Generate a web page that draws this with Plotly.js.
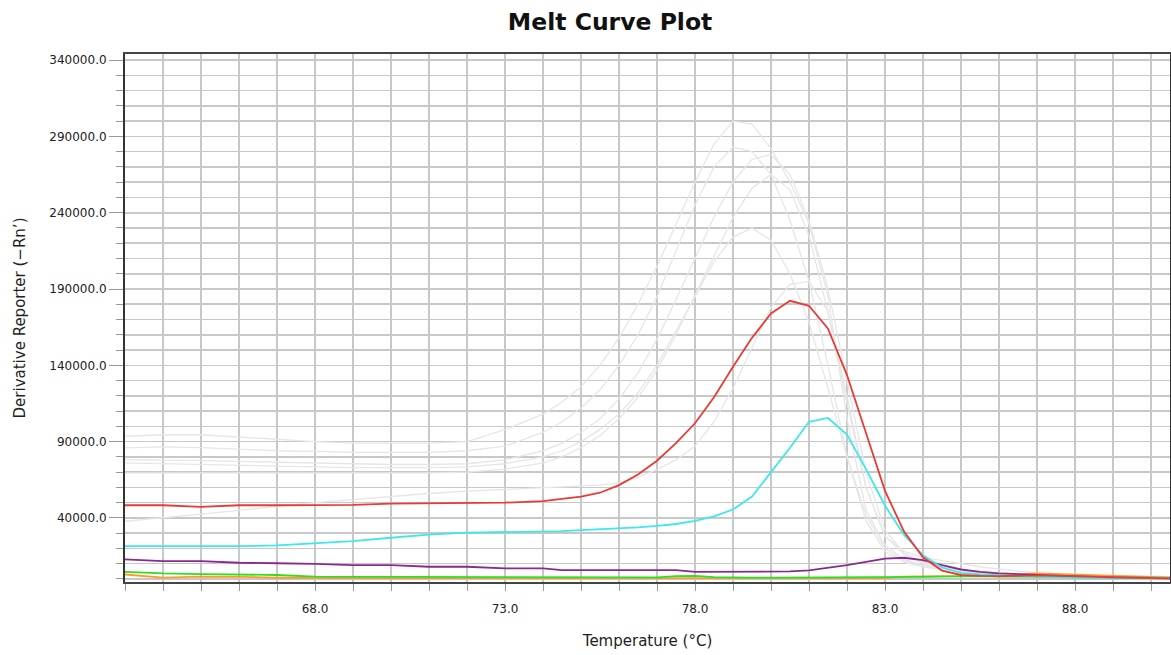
<!DOCTYPE html>
<html>
<head>
<meta charset="utf-8">
<script src="https://cdn.plot.ly/plotly-3.0.1.min.js"></script>
<style>
  html, body { margin: 0; padding: 0; background: #ffffff; }
  #chart { width: 1171px; height: 655px; }
</style>
</head>
<body>
<div id="chart"></div>
<script>
// Temperature grid (°C)
const temps = [63,64,65,66,67,68,69,70,71,72,73,74,74.5,75,75.5,76,76.5,77,77.5,78,78.5,79,79.5,80,80.5,81,81.5,82,82.5,83,83.5,84,84.5,85,85.5,86,87,88,89,90,90.5];

// Grey (background) wells
const greyA = [93500,94500,94500,93000,91500,90000,89000,89000,89000,90000,97800,108000,116000,126000,140000,158000,180000,205000,232000,260000,285000,300000,298000,282000,260000,233000,185000,105000,45000,22000,13000,9000,7000,5500,4500,4000,3000,2500,2000,1500,1500];
const greyB = [85900,86500,86000,85000,84000,83600,83000,83000,83000,84000,87000,96000,103000,112000,124000,140000,160000,185000,215000,245000,270000,283000,280000,265000,235000,195000,140000,80000,38000,18000,11000,8000,6000,5000,4000,3500,2500,2000,1500,1200,1200];
const greyC = [78200,78000,77500,77000,76500,76000,75500,75000,75000,75500,78000,84000,89000,96000,105000,118000,135000,157000,183000,210000,237000,260000,275000,278000,265000,235000,190000,130000,70000,32000,17000,11000,8000,6000,5000,4000,3000,2500,2000,1500,1500];
const greyD = [76000,75500,75000,74500,74000,73500,73000,73000,73000,73500,75500,80000,84000,90000,98000,108000,122000,140000,162000,185000,208000,224000,230000,222000,200000,168000,125000,80000,42000,20000,12000,8500,6500,5000,4000,3500,2500,2000,1500,1200,1200];
const greyE = [37800,40000,42500,45000,47500,50000,52000,54000,56000,57500,58600,59500,60000,60500,61500,63000,66500,71700,78000,87000,103000,125000,152000,178000,193000,195000,175000,120000,60000,28000,18000,14000,12000,10000,8000,6500,4000,3000,2000,1500,1500];
const greyF = [69500,69500,69500,69500,69500,69500,69500,69500,69500,70000,72000,76000,80000,86000,94000,105000,119000,137000,160000,186000,212000,237000,256000,265000,255000,225000,175000,115000,60000,28000,16000,10000,7500,6000,5000,4000,3000,2500,2000,1500,1500];

// Highlighted wells
const orangeWell = [2900,900,1500,1400,800,600,500,500,500,500,500,500,500,500,500,500,500,500,500,500,500,500,500,500,500,500,500,500,500,500,1500,1800,1800,1800,2000,2400,3600,2800,1800,1000,800];
const greenWell  = [4700,3600,3200,2900,2600,1500,1400,1400,1500,1500,1100,1000,1000,1000,1000,1000,1000,1000,1800,2000,1200,900,900,900,900,900,900,900,900,900,1000,1300,1500,1700,1800,1600,1400,1200,1000,900,900];
const purpleWell = [12800,11700,11700,10600,10300,9900,9000,9000,8000,8000,6900,6900,5800,5800,5800,5800,5800,5800,5800,4700,4700,4700,4700,4700,4900,5600,7200,9000,11200,13300,13900,12300,9000,6200,4600,3600,2600,1500,800,600,500];
const cyanWell   = [21500,21500,21500,21500,22000,23200,24800,27000,29000,30300,30600,31000,31300,32000,32500,33000,33800,34800,36000,38000,41000,45500,54000,70000,86000,103000,105500,94600,72000,48000,29000,15500,7500,4000,3000,2500,1500,800,800,700,600];
const redWell    = [48300,48300,47200,48300,48300,48300,48500,49300,49500,49600,50000,51000,52500,54000,56500,61500,68500,77500,89000,102000,119000,139000,158000,174000,182300,179000,164000,133600,95700,57700,31000,14200,5500,2600,2000,1800,2400,1800,1200,600,300];

// Axis ticks
const xTickVals = [68, 73, 78, 83, 88];
const xTickText = ["68.0", "73.0", "78.0", "83.0", "88.0"];

const greySeries = [greyA, greyB, greyC, greyD, greyE, greyF];
const traces = [];
greySeries.forEach(function (s) {
  traces.push({x: temps, y: s, type: 'scatter', mode: 'lines',
    line: {color: '#e6e6e6', width: 1.3}, hoverinfo: 'skip', showlegend: false});
});
const coloured = [
  [orangeWell, '#ff9a2e'],
  [greenWell, '#2ee01e'],
  [purpleWell, '#8a2a8f'],
  [cyanWell, '#3ee8e8'],
  [redWell, '#ea3a34']
];
coloured.forEach(function (c) {
  traces.push({x: temps, y: c[0], type: 'scatter', mode: 'lines',
    line: {color: c[1], width: 1.8}, showlegend: false});
});

const gridCol = '#c8c8c8';
const layout = {
  width: 1171, height: 655,
  paper_bgcolor: '#ffffff', plot_bgcolor: '#ffffff',
  margin: {l: 125, r: 1, t: 54, b: 73},
  showlegend: false,
  title: {
    text: 'Melt Curve Plot',
    font: {family: 'DejaVu Sans', size: 23.5, color: '#111111', weight: 700},
    x: 0.521, xref: 'container', xanchor: 'center',
    y: 0.967, yref: 'container', yanchor: 'middle'
  },
  xaxis: {
    range: [63, 90.5],
    tickmode: 'array', tickvals: xTickVals, ticktext: xTickText,
    ticks: 'outside', ticklen: 7, tickwidth: 1, tickcolor: '#999999',
    ticklabelstandoff: 8,
    showgrid: true, gridcolor: gridCol, gridwidth: 1.6,
    minor: {tickmode: 'linear', tick0: 63, dtick: 1, showgrid: true,
            gridcolor: gridCol, gridwidth: 1.6, ticks: 'outside', ticklen: 7, tickcolor: '#999999'},
    zeroline: false,
    showline: true, linecolor: '#444444', linewidth: 2, mirror: true,
    tickfont: {family: 'DejaVu Sans', size: 12, color: '#222222'},
    title: {text: 'Temperature (°C)', standoff: 20,
            font: {family: 'DejaVu Sans', size: 15, color: '#222222'}}
  },
  yaxis: {
    range: [-2000, 344000],
    tickmode: 'linear', tick0: 40000, dtick: 50000, tickformat: '.1f',
    ticks: 'outside', ticklen: 14, tickwidth: 1, tickcolor: '#999999',
    showgrid: true, gridcolor: gridCol, gridwidth: 1.6,
    minor: {tickmode: 'linear', tick0: 0, dtick: 10000, showgrid: true,
            gridcolor: gridCol, gridwidth: 1.6, ticks: 'outside', ticklen: 7, tickcolor: '#999999'},
    zeroline: false,
    showline: true, linecolor: '#333333', linewidth: 2, mirror: true,
    tickfont: {family: 'DejaVu Sans', size: 12, color: '#222222'},
    title: {text: 'Derivative Reporter (−Rn’)', standoff: 20,
            font: {family: 'DejaVu Sans', size: 15, color: '#222222'}}
  }
};

Plotly.newPlot('chart', traces, layout, {displayModeBar: false, staticPlot: true});
</script>
</body>
</html>
